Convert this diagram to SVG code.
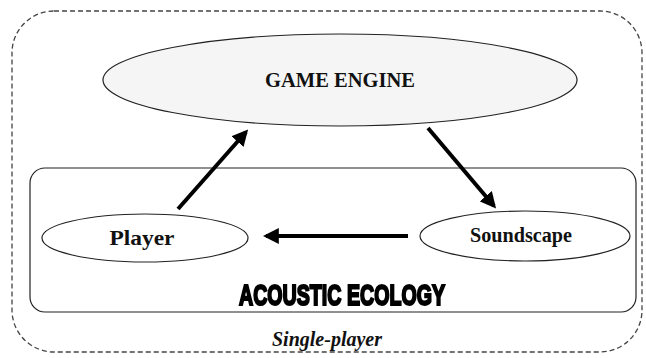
<svg xmlns="http://www.w3.org/2000/svg" width="646" height="358" viewBox="0 0 646 358">
  <defs>
    <marker id="arrow" viewBox="0 0 10 10" refX="8" refY="5" markerWidth="4" markerHeight="4" orient="auto" markerUnits="strokeWidth">
      <path d="M0,0 L10,5 L0,10 Z" fill="#000"/>
    </marker>
    <filter id="soft" x="-5%" y="-20%" width="110%" height="140%">
      <feGaussianBlur stdDeviation="0.6"/>
    </filter>
  </defs>
  <style>
    .frame { fill: none; stroke: #444; stroke-width: 1.3; stroke-dasharray: 5 3; }
    .ecology { fill: #fff; stroke: #222; stroke-width: 1.2; }
    .node { stroke: #222; stroke-width: 1.2; }
    .label { font-family: "Liberation Serif", "DejaVu Serif", serif; font-weight: bold; fill: #111; text-anchor: middle; }
    .flow { stroke: #000; stroke-width: 4; fill: none; marker-end: url(#arrow); }
  </style>
  <rect width="646" height="358" fill="#fff"/>

  <!-- outer dashed boundary -->
  <rect class="frame" x="12" y="11" width="630" height="341" rx="42" ry="42"/>

  <!-- acoustic ecology container -->
  <g id="acoustic-ecology">
    <rect class="ecology" x="30" y="168" width="606" height="144" rx="15" ry="15"/>
    <text x="342" y="305" font-family="Liberation Sans, Arial, sans-serif" font-weight="bold" font-size="30" fill="#000" stroke="#000" stroke-width="2.2" text-anchor="middle" textLength="206" lengthAdjust="spacingAndGlyphs" filter="url(#soft)">ACOUSTIC ECOLOGY</text>
  </g>

  <g id="game-engine">
    <ellipse class="node" cx="340" cy="80" rx="237" ry="46" fill="#f5f5f5"/>
    <text class="label" x="340" y="87" font-size="20" textLength="150" lengthAdjust="spacingAndGlyphs">GAME ENGINE</text>
  </g>

  <g id="player">
    <ellipse class="node" cx="145" cy="238" rx="103" ry="24" fill="#fff"/>
    <text class="label" x="142" y="245" font-size="20" textLength="65" lengthAdjust="spacingAndGlyphs">Player</text>
  </g>

  <g id="soundscape">
    <ellipse class="node" cx="525" cy="236" rx="105" ry="25" fill="#fff"/>
    <text class="label" x="521" y="242" font-size="20" textLength="102" lengthAdjust="spacingAndGlyphs">Soundscape</text>
  </g>

  <g id="connectors">
    <line class="flow" x1="178" y1="209" x2="246" y2="132"/>
    <line class="flow" x1="428" y1="128" x2="494" y2="206"/>
    <line class="flow" x1="408" y1="236" x2="266" y2="236"/>
  </g>

  <text x="327" y="346" font-family="Liberation Serif, serif" font-style="italic" font-weight="bold" font-size="20" fill="#111" text-anchor="middle" textLength="110" lengthAdjust="spacingAndGlyphs">Single-player</text>
</svg>
